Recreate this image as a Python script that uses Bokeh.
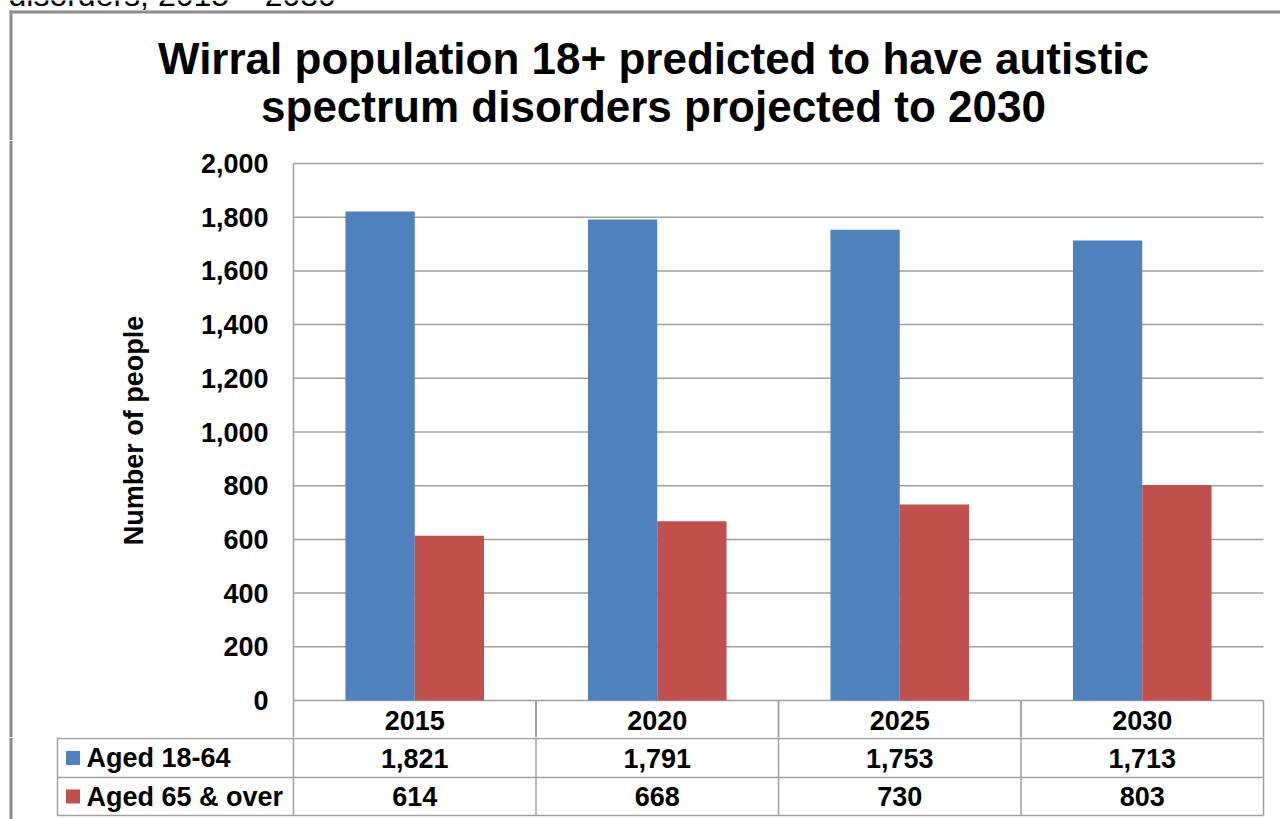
import math
from bokeh.plotting import figure
from bokeh.layouts import column, row
from bokeh.models import FactorRange, Range1d, NumeralTickFormatter, FixedTicker, ColumnDataSource
from bokeh.transform import dodge
from bokeh.core.properties import value
from bokeh.embed import file_html
from bokeh.resources import INLINE

# ---- data ----
years = ["2015", "2020", "2025", "2030"]
aged_18_64 = [1821, 1791, 1753, 1713]
aged_65_over = [614, 668, 730, 803]
series_names = ["Aged 18-64", "Aged 65 & over"]
series_colors = ["#4F81BD", "#C0504D"]
y_ticks = [0, 200, 400, 600, 800, 1000, 1200, 1400, 1600, 1800, 2000]
title_lines = ["Wirral population 18+ predicted to have autistic",
               "spectrum disorders projected to 2030"]
caption = "disorders, 2015 \u2013 2030"
y_title = "Number of people"

# ---- layout (canvas pixels) ----
W, H = 1280, 819
FONT = "Liberation Sans"
GRID = "#a0a0a0"
BORDER = "#8c8c8c"
FS = "27px"
X0, X1 = 293, 1263          # category area
Y2000, Y0 = 163, 700        # value axis
HEAD_H = 140                # head figure height
TAB_TOP = 737               # table figure starts here
STRIP_W = 160
LEG_L = 57
rows_y = [700, 738, 777, 815]
ncol = len(years)
cw = (X1 - X0) / ncol
k = (Y0 - Y2000) / 2000.0   # px per unit
pad_px = 3


def blank(w, h):
    f = figure(width=w, height=h, x_range=Range1d(0, w), y_range=Range1d(h, 0),
               output_backend="svg", toolbar_location=None, title=None,
               x_axis_location=None, y_axis_location=None, min_border=0)
    f.grid.visible = False
    f.outline_line_color = None
    f.background_fill_color = "white"
    f.border_fill_color = "white"
    return f


def txt(f, x, y, s, size, bold=True, align="center", baseline="middle", angle=0):
    f.text(x=[x], y=[y], text=[s], text_font=value(FONT), text_font_size=size,
           text_font_style="bold" if bold else "normal", text_align=align,
           text_baseline=baseline, text_color="black", angle=angle)


def vline(f, x, y0, y1):
    f.quad(left=[x - 1.5], right=[x + 1.5], top=[y0], bottom=[y1],
           fill_color=BORDER, line_color=None)


# ---------- head ----------
head = blank(W, HEAD_H)
txt(head, 8, -6, caption, "32px", bold=False, align="left")
head.quad(left=[9], right=[W], top=[10], bottom=[13], fill_color=BORDER, line_color=None)
vline(head, 10.5, 10, HEAD_H)
txt(head, 653, 58, title_lines[0], "44px")
txt(head, 653, 106, title_lines[1], "44px")

# ---------- strip (outer left border + value axis title) ----------
ch_h = TAB_TOP - HEAD_H
strip = blank(STRIP_W, ch_h)
vline(strip, 10.5, 0, ch_h)
txt(strip, 133, 430 - HEAD_H, y_title, FS, angle=math.pi / 2)

# ---------- chart ----------
pad_u = pad_px / cw
y_end = 2000 + (Y2000 - HEAD_H) / k
y_start = -(TAB_TOP - Y0) / k
p = figure(width=W - STRIP_W, height=ch_h,
           x_range=FactorRange(*years, range_padding=pad_u, range_padding_units="absolute"),
           y_range=Range1d(y_start, y_end), title=None,
           output_backend="svg", toolbar_location=None, x_axis_location=None,
           min_border_left=X0 - pad_px - STRIP_W, min_border_right=W - X1 - pad_px,
           min_border_top=0, min_border_bottom=0)
p.outline_line_color = None
p.background_fill_color = "white"
p.border_fill_color = "white"
p.grid.visible = False

# gridlines, value-axis line and category-row borders
grid_src = ColumnDataSource(dict(y=y_ticks, xa=[years[0]] * len(y_ticks), xb=[years[-1]] * len(y_ticks)))
p.segment(x0=dodge("xa", -0.5, range=p.x_range), x1=dodge("xb", 0.5, range=p.x_range),
          y0="y", y1="y", source=grid_src, line_color=GRID, line_width=1.5)
edge_src = ColumnDataSource(dict(x=years, y0=[y_start] * ncol, y1=[0] * ncol))
p.segment(x0=dodge("x", -0.5, range=p.x_range), x1=dodge("x", -0.5, range=p.x_range),
          y0="y0", y1="y1", source=edge_src, line_color=GRID, line_width=1.5)
p.segment(x0=dodge("x", 0.5, range=p.x_range), x1=dodge("x", 0.5, range=p.x_range),
          y0="y0", y1="y1", source=edge_src, line_color=GRID, line_width=1.5)
axis_src = ColumnDataSource(dict(x=[years[0]], y0=[0], y1=[max(y_ticks)]))
p.segment(x0=dodge("x", -0.5, range=p.x_range), x1=dodge("x", -0.5, range=p.x_range),
          y0="y0", y1="y1", source=axis_src, line_color=GRID, line_width=1.5)

src = ColumnDataSource(dict(year=years, a=aged_18_64, b=aged_65_over))
bw = 1 / 3.5
p.vbar(x=dodge("year", -bw / 2, range=p.x_range), top="a", width=bw, source=src,
       fill_color=series_colors[0], line_color=None)
p.vbar(x=dodge("year", bw / 2, range=p.x_range), top="b", width=bw, source=src,
       fill_color=series_colors[1], line_color=None)

# category row of the data table
cat_y = -((rows_y[0] + rows_y[1]) / 2 - Y0 + 1) / k
p.text(x=years, y=[cat_y] * ncol, text=years, text_font=value(FONT), text_font_size=FS,
       text_font_style="bold", text_align="center", text_baseline="middle", text_color="black")

p.yaxis.ticker = FixedTicker(ticks=y_ticks)
p.yaxis.formatter = NumeralTickFormatter(format="0,0")
p.yaxis.major_label_text_font = FONT
p.yaxis.major_label_text_font_style = "bold"
p.yaxis.major_label_text_font_size = FS
p.yaxis.major_label_text_color = "black"
p.yaxis.major_tick_line_color = None
p.yaxis.minor_tick_line_color = None
p.yaxis.major_tick_out = 0
p.yaxis.major_tick_in = 0
p.yaxis.minor_tick_out = 0
p.yaxis.major_label_standoff = 25 - pad_px
p.yaxis.axis_line_color = None

# ---------- table ----------
tab_h = H - TAB_TOP
tab = blank(W, tab_h)
ry = [r - TAB_TOP for r in rows_y]
cols = [X0 + i * cw for i in range(ncol + 1)]
vline(tab, 10.5, 0, tab_h)
tab.segment(x0=[LEG_L] * 3, y0=ry[1:], x1=[X1] * 3, y1=ry[1:], line_color=GRID, line_width=1.5)
vx = [LEG_L] + cols
tab.segment(x0=vx, y0=[-5] * len(vx), x1=vx, y1=[ry[3]] * len(vx), line_color=GRID, line_width=1.5)

series_vals = [aged_18_64, aged_65_over]
for s in range(2):
    cy = (ry[s + 1] + ry[s + 2]) / 2
    tab.rect(x=[72.5], y=[cy], width=14, height=14, fill_color=series_colors[s], line_color=None)
    txt(tab, 86, cy, series_names[s], FS, align="left")
    for i in range(ncol):
        txt(tab, (cols[i] + cols[i + 1]) / 2, cy, f"{series_vals[s][i]:,}", FS)

layout = column(head, row(strip, p, spacing=0), tab, spacing=0)
open("out.html", "w").write(file_html(layout, INLINE))
